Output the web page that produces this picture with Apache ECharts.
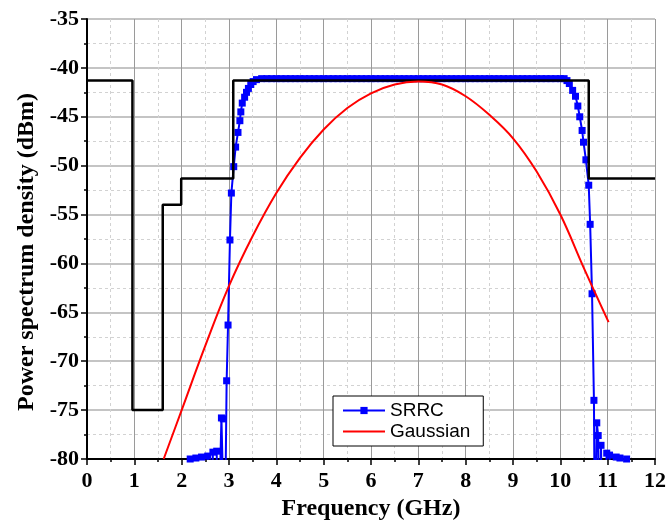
<!DOCTYPE html>
<html>
<head>
<meta charset="utf-8">
<script src="https://cdn.jsdelivr.net/npm/echarts@6/dist/echarts.min.js"></script>
<style>html,body{margin:0;padding:0;background:#fff}#c{width:666px;height:523px}</style>
</head>
<body>
<div id="c"></div>
<script>
// Frequency ticks (GHz) and PSD ticks (dBm)
const xTicks = [0, 12, 1];
const yTicks = [-80, -35, 5];
const xTitle = 'Frequency (GHz)';
const yTitle = 'Power spectrum density (dBm)';

// SRRC pulse spectrum
const srrcFreq = [2.00,2.18,2.30,2.36,2.42,2.55,2.62,2.66,2.74,2.77,2.84,2.88,2.91,2.95,2.98,3.02,3.05,3.10,3.14,3.19,3.23,3.25,3.28,3.33,3.37,3.41,3.46,3.51,3.58,3.69,
  3.8,3.9,4.0,4.1,4.2,4.3,4.4,4.5,4.6,4.7,4.8,4.9,5.0,5.1,5.2,5.3,5.4,5.5,5.6,5.7,5.8,5.9,6.0,6.1,6.2,6.3,6.4,6.5,6.6,6.7,6.8,6.9,
  7.0,7.1,7.2,7.3,7.4,7.5,7.6,7.7,7.8,7.9,8.0,8.1,8.2,8.3,8.4,8.5,8.6,8.7,8.8,8.9,9.0,9.1,9.2,9.3,9.4,9.5,9.6,9.7,9.8,9.9,
  10.0,10.08,10.14,10.19,10.26,10.32,10.37,10.41,10.46,10.49,10.54,10.60,10.63,10.67,10.71,10.73,10.77,10.80,10.83,10.86,10.89,10.98,11.04,11.07,11.18,11.26,11.30,11.40,11.50];
const srrcPsd = [-90,-80.0,-79.9,-90,-79.8,-79.7,-90,-79.3,-79.2,-90,-75.8,-75.9,-90,-72.0,-66.3,-57.6,-52.8,-50.1,-48.1,-46.6,-45.4,-44.5,-43.6,-43.0,-42.5,-42.1,-41.7,-41.4,-41.2,-41.1,
  -41.1,-41.1,-41.1,-41.1,-41.1,-41.1,-41.1,-41.1,-41.1,-41.1,-41.1,-41.1,-41.1,-41.1,-41.1,-41.1,-41.1,-41.1,-41.1,-41.1,-41.1,-41.1,-41.1,-41.1,-41.1,-41.1,-41.1,-41.1,-41.1,-41.1,-41.1,-41.1,
  -41.1,-41.1,-41.1,-41.1,-41.1,-41.1,-41.1,-41.1,-41.1,-41.1,-41.1,-41.1,-41.1,-41.1,-41.1,-41.1,-41.1,-41.1,-41.1,-41.1,-41.1,-41.1,-41.1,-41.1,-41.1,-41.1,-41.1,-41.1,-41.1,-41.1,
  -41.1,-41.1,-41.3,-41.6,-42.3,-42.9,-43.9,-45.0,-46.4,-47.6,-49.4,-52.0,-56.0,-63.1,-74.0,-90,-76.3,-77.6,-90,-78.6,-90,-79.4,-79.6,-90,-79.8,-79.9,-90,-80.0,-90];

// Gaussian pulse spectrum
const gaussFreq = [1.62,2.0,2.5,3.0,3.5,4.0,4.5,5.0,5.5,6.0,6.5,7.0,7.5,8.0,8.5,9.0,9.5,10.0,10.5,11.02];
const gaussPsd = [-80,-75.0,-68.4,-62.3,-57.2,-52.8,-49.2,-46.3,-44.1,-42.6,-41.7,-41.4,-41.7,-42.9,-44.8,-47.2,-50.6,-55.0,-60.5,-66.0];

// FCC indoor emission mask
const maskFreq = [0,0.96,0.96,1.60,1.60,1.99,1.99,3.09,3.09,10.6,10.6,12];
const maskPsd = [-41.3,-41.3,-75.0,-75.0,-54.0,-54.0,-51.3,-51.3,-41.3,-41.3,-51.3,-51.3];

const zip = (a, b) => a.map((v, i) => [v, b[i]]);
const serif = '"Liberation Serif","Times New Roman",serif';
const sans = '"Liberation Sans",Arial,sans-serif';

const chart = echarts.init(document.getElementById('c'), null, {renderer: 'canvas'});
chart.setOption({
  animation: false,
  backgroundColor: '#fff',
  grid: {left: 87, right: 11, top: 19, bottom: 64, containLabel: false, outerBoundsMode: 'none'},
  graphic: [{
    type: 'text', x: 27, y: 252, rotation: Math.PI / 2,
    style: {text: yTitle, fontFamily: serif, fontWeight: 'bold', fontSize: 24, fill: '#000',
      textAlign: 'center', textVerticalAlign: 'middle', verticalAlign: 'middle', align: 'center'}
  }],
  legend: {
    orient: 'vertical', left: 333, top: 396,
    data: [
      {name: 'SRRC'},
      {name: 'Gaussian', itemStyle: {opacity: 0}}
    ],
    backgroundColor: '#fff', borderColor: '#000', borderWidth: 1, borderRadius: 0,
    padding: [5, 13, 5, 9], itemGap: 2, itemWidth: 42, itemHeight: 9,
    textStyle: {fontFamily: sans, fontSize: 19, color: '#000'}
  },
  xAxis: {
    type: 'value', min: xTicks[0], max: xTicks[1], interval: xTicks[2],
    name: xTitle, nameLocation: 'middle', nameGap: 37,
    nameTextStyle: {fontFamily: serif, fontWeight: 'bold', fontSize: 24, color: '#000'},
    axisLine: {show: true, onZero: false, lineStyle: {color: '#000', width: 2}},
    axisTick: {show: true, length: 6, lineStyle: {color: '#000', width: 1.5}},
    minorTick: {show: true, splitNumber: 2, length: 3, lineStyle: {color: '#000', width: 1.5}},
    axisLabel: {fontFamily: serif, fontWeight: 'bold', fontSize: 22, color: '#000', margin: 11},
    splitLine: {show: true, lineStyle: {color: '#9a9a9a', width: 1}},
    minorSplitLine: {show: true, lineStyle: {color: '#d2d2d2', width: 1, type: [3, 3]}}
  },
  yAxis: {
    type: 'value', min: yTicks[0], max: yTicks[1], interval: yTicks[2],
    axisLine: {show: true, onZero: false, lineStyle: {color: '#000', width: 2}},
    axisTick: {show: true, length: 6, lineStyle: {color: '#000', width: 1.5}},
    minorTick: {show: true, splitNumber: 2, length: 3, lineStyle: {color: '#000', width: 1.5}},
    axisLabel: {fontFamily: serif, fontWeight: 'bold', fontSize: 22, color: '#000', margin: 8},
    splitLine: {show: true, lineStyle: {color: '#c4c4c4', width: 2}},
    minorSplitLine: {show: true, lineStyle: {color: '#d2d2d2', width: 1, type: [3, 3]}}
  },
  series: [
    {
      name: 'SRRC', type: 'line', data: zip(srrcFreq, srrcPsd), clip: true,
      symbol: 'rect', symbolSize: 7, showAllSymbol: true,
      lineStyle: {color: '#0000ff', width: 2}, itemStyle: {color: '#0000ff'}, z: 2
    },
    {
      name: 'Mask', type: 'line', data: zip(maskFreq, maskPsd), clip: true,
      symbol: 'none', lineStyle: {color: '#000', width: 2.5}, z: 3
    },
    {
      name: 'Gaussian', type: 'line', data: zip(gaussFreq, gaussPsd), clip: true,
      symbol: 'none', smooth: 0.4, lineStyle: {color: '#ff0000', width: 2}, itemStyle: {color: '#ff0000'}, z: 4
    }
  ]
});
</script>
</body>
</html>
